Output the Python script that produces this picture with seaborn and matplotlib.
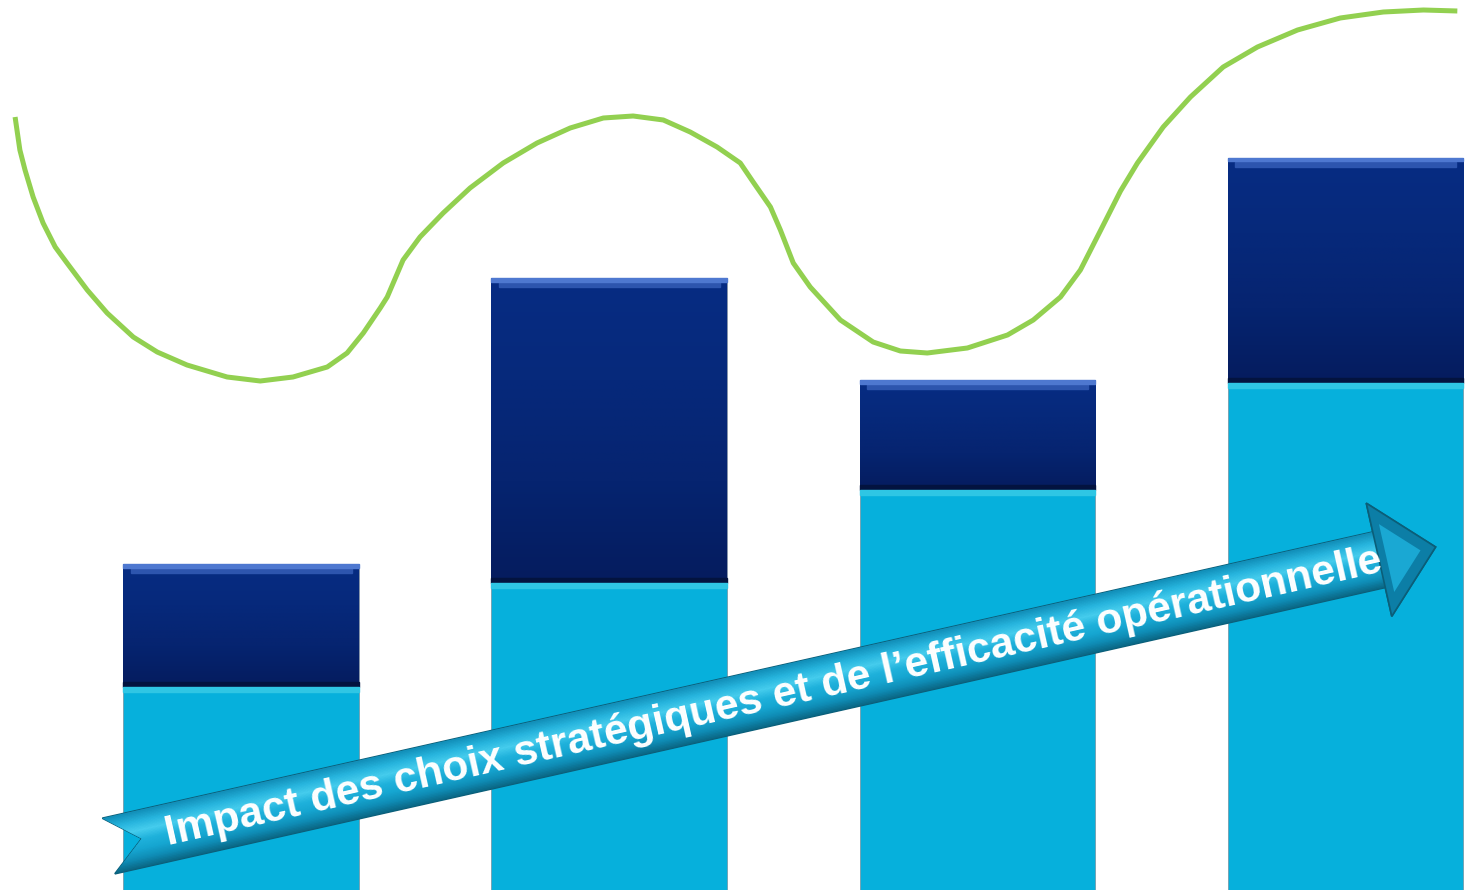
import numpy as np
import pandas as pd
import seaborn as sns
import matplotlib.pyplot as plt
from matplotlib.patches import Polygon, Rectangle
from matplotlib.colors import LinearSegmentedColormap
from matplotlib.transforms import IdentityTransform

sns.set_theme(style="white")
plt.rcParams['font.family'] = ['Liberation Sans', 'DejaVu Sans']

# Data (value scale 0-89).
periods = ["P1", "P2", "P3", "P4"]
base_values = [20.3, 30.7, 40.0, 50.7]   # light blue part
top_values = [12.3, 30.5, 11.0, 22.5]    # dark navy part

# Green trend curve (x in bar-position units).
trend_x = [-0.614, -0.601, -0.587, -0.565, -0.538, -0.505, -0.473, -0.418,
           -0.364, -0.293, -0.228, -0.147, -0.038, 0.052, 0.141, 0.234,
           0.288, 0.332, 0.378, 0.397, 0.440, 0.486, 0.549, 0.622, 0.712,
           0.804, 0.894, 0.984, 1.065, 1.147, 1.220, 1.293, 1.356, 1.391,
           1.438, 1.465, 1.500, 1.546, 1.628, 1.717, 1.791, 1.864, 1.973,
           2.082, 2.152, 2.226, 2.280, 2.334, 2.389, 2.435, 2.505, 2.579,
           2.668, 2.761, 2.870, 2.986, 3.103, 3.212, 3.304]
trend_y = [77.3, 74.0, 72.0, 69.3, 66.7, 64.3, 62.7, 60.0, 57.7, 55.3, 53.8,
           52.5, 51.3, 50.9, 51.3, 52.3, 53.7, 55.7, 58.2, 59.3, 63.0, 65.3,
           67.7, 70.2, 72.7, 74.7, 76.2, 77.2, 77.4, 77.0, 75.8, 74.3, 72.7,
           70.8, 68.3, 66.0, 62.7, 60.3, 57.0, 54.8, 53.9, 53.7, 54.2, 55.5,
           57.0, 59.3, 62.0, 65.9, 69.9, 72.7, 76.3, 79.3, 82.3, 84.3, 86.0,
           87.2, 87.8, 88.0, 87.9]

arrow_start = (-0.36, 4.4)
arrow_end = (3.245, 34.3)
arrow_label = "Impact des choix stratégiques et de l’efficacité opérationnelle"

df = pd.DataFrame({"period": periods, "base": base_values, "top": top_values})
df["total"] = df["base"] + df["top"]

fig = plt.figure(figsize=(14.68, 8.9), dpi=100)
ax = fig.add_axes([0, 0, 1, 1])

# Stacked bars: total in navy, base in cyan on top of it.
sns.barplot(data=df, x="period", y="total", color="#06287A", width=0.64,
            saturation=1, ax=ax, zorder=2, edgecolor="#8a97a8", linewidth=0.6)
sns.barplot(data=df, x="period", y="base", color="#06B0DC", width=0.64,
            saturation=1, ax=ax, zorder=3, edgecolor="#7fa6b4", linewidth=0.6)

# Gradient + bevel on the navy parts.
navy = LinearSegmentedColormap.from_list("navy", ["#051C5E", "#062470", "#06297B", "#072C83"])
grad = np.linspace(0, 1, 256).reshape(-1, 1)
for bar, base, total in zip(ax.containers[0], df["base"], df["total"]):
    x0, w = bar.get_x(), bar.get_width()
    im = ax.imshow(grad, cmap=navy, extent=[x0, x0 + w, base, total],
                   origin="lower", aspect="auto", zorder=2.1)
    im.set_clip_path(bar)
    ax.add_patch(Rectangle((x0, total - 0.35), w, 0.35, color="#4E78D0", zorder=2.3))
    ax.add_patch(Rectangle((x0 + 0.02, total - 0.9), w - 0.04, 0.55, color="#2D55AE", zorder=2.2))
    ax.add_patch(Rectangle((x0, base), w, 0.5, color="#03133F", zorder=2.2))

for bar in ax.containers[1]:
    x0, w, h = bar.get_x(), bar.get_width(), bar.get_height()
    ax.add_patch(Rectangle((x0, h - 0.45), w, 0.45, color="#2FC6E4", zorder=3.2))

# Green curve.
sns.lineplot(x=trend_x, y=trend_y, sort=False, estimator=None, color="#92D050",
             linewidth=3.6, ax=ax, zorder=4)
ax.lines[-1].set_solid_capstyle("butt")
ax.lines[-1].set_solid_joinstyle("round")

ax.set_xlim(-0.655, 3.333)
ax.set_ylim(0, 89)
ax.axis("off")

# Arrow drawn in pixel space so it keeps its shape.
p0 = ax.transData.transform(arrow_start)
p1 = ax.transData.transform(arrow_end)
d = p1 - p0
length = np.hypot(*d)
ux = d / length
vx = np.array([-ux[1], ux[0]])
angle = np.degrees(np.arctan2(d[1], d[0]))


def local(u, v):
    return p0 + u * ux + v * vx


half, head_half, head_len, notch = 28.5, 58, 58, 34
neck = length - head_len
outline = [local(0, half), local(neck, half), local(neck, head_half),
           local(length, 0), local(neck, -head_half), local(neck, -half),
           local(0, -half), local(notch, 0)]
arrow = Polygon(outline, closed=True, facecolor="#139DC8", edgecolor="#0B5E78",
                linewidth=1.2, transform=IdentityTransform(), zorder=5)
ax.add_patch(arrow)

# shaded bands across the shaft
shade = LinearSegmentedColormap.from_list(
    "shade", ["#0A6684", "#0F8DB6", "#16A6D1", "#1FB2DC", "#46CDEE", "#27B5DE", "#1391BB"])
n_bands = 40
edges = np.linspace(-half, half, n_bands + 1)
for i in range(n_bands):
    c = shade(i / (n_bands - 1))
    band = Polygon([local(0, edges[i]), local(neck + 1, edges[i]),
                    local(neck + 1, edges[i + 1]), local(0, edges[i + 1])],
                   closed=True, facecolor=c, edgecolor=c, linewidth=0.6,
                   transform=IdentityTransform(), zorder=5.1)
    band.set_clip_path(arrow)
    ax.add_patch(band)

# head bevel
head_outer = [local(neck, head_half), local(length, 0), local(neck, -head_half)]
cx = np.mean(head_outer, axis=0)
head_inner = [cx + 0.6 * (p - cx) for p in head_outer]
ax.add_patch(Polygon(head_outer, closed=True, facecolor="#0C7EA6", edgecolor="#0B5E78",
                     linewidth=1.2, transform=IdentityTransform(), zorder=5.2))
ax.add_patch(Polygon(head_inner, closed=True, facecolor="#1AA8D3", edgecolor="none",
                     transform=IdentityTransform(), zorder=5.3))

ax.text(*local(length * 0.501, -1.5), arrow_label, transform=IdentityTransform(),
        rotation=angle, rotation_mode="anchor", ha="center", va="center",
        color="white", fontsize=30.7, fontweight="bold", zorder=7)

fig.savefig("out.png", dpi=100)
